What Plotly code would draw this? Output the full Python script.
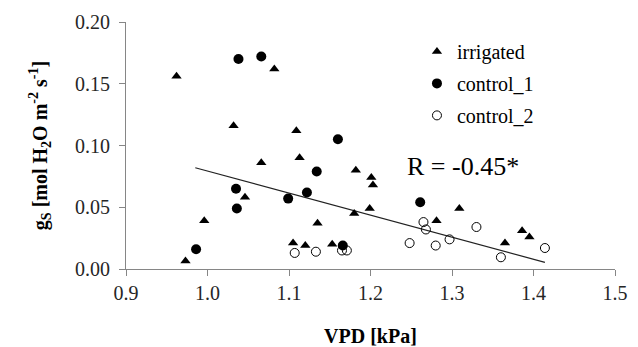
import plotly.graph_objects as go

# Data
irr_x = [0.962, 1.032, 1.082, 1.109, 1.113, 1.066, 1.046, 0.996, 1.135, 1.105, 1.120, 0.973,
         1.182, 1.201, 1.203, 1.199, 1.180, 1.309, 1.281, 1.386, 1.395, 1.365, 1.153]
irr_y = [0.156, 0.116, 0.162, 0.112, 0.090, 0.086, 0.058, 0.039, 0.037, 0.021, 0.019, 0.0065,
         0.080, 0.074, 0.068, 0.049, 0.045, 0.049, 0.039, 0.031, 0.026, 0.021, 0.020]

c1_x = [1.038, 1.066, 1.160, 1.134, 1.035, 1.122, 1.099, 1.036, 0.986, 1.261, 1.166]
c1_y = [0.170, 0.172, 0.105, 0.079, 0.065, 0.062, 0.057, 0.049, 0.016, 0.054, 0.019]

c2_x = [1.107, 1.133, 1.165, 1.171, 1.265, 1.268, 1.330, 1.297, 1.248, 1.280, 1.414, 1.360]
c2_y = [0.013, 0.014, 0.015, 0.015, 0.038, 0.032, 0.034, 0.024, 0.021, 0.019, 0.017, 0.0095]

trend_x = [0.985, 1.414]
trend_y = [0.082, 0.0054]

x_ticks = [0.9, 1.0, 1.1, 1.2, 1.3, 1.4, 1.5]
y_ticks = [0.00, 0.05, 0.10, 0.15, 0.20]

FONT = "'Liberation Serif', Tinos, 'Times New Roman', 'DejaVu Serif', serif"
AXC = "#868686"
TXT = "#262626"

fig = go.Figure()
fig.add_trace(go.Scatter(x=trend_x, y=trend_y, mode="lines",
                         line=dict(color="#222", width=1.2), showlegend=False, hoverinfo="skip"))
fig.add_trace(go.Scatter(x=irr_x, y=irr_y, mode="markers", name="irrigated", legendgroup="a",
                         marker=dict(symbol="triangle-up", size=9, color="black")))
fig.add_trace(go.Scatter(x=c1_x, y=c1_y, mode="markers", name="control_1", legendgroup="b",
                         marker=dict(symbol="circle", size=10, color="black")))
fig.add_trace(go.Scatter(x=c2_x, y=c2_y, mode="markers", name="control_2", legendgroup="c",
                         marker=dict(symbol="circle-open", size=9, color="black",
                                     line=dict(width=1, color="black"))))

fig.add_annotation(x=1.313, y=0.0828, xref="x", yref="y", text="R = -0.45*",
                   showarrow=False, font=dict(family=FONT, size=26, color="black"))

fig.update_layout(
    template="none",
    width=622, height=339,
    margin=dict(l=118, r=15, t=14, b=78, autoexpand=False),
    paper_bgcolor="white", plot_bgcolor="white",
    font=dict(family=FONT, size=20, color="black"),
    legend=dict(x=0.595, y=0.96, xanchor="left", yanchor="top",
                bgcolor="rgba(0,0,0,0)", font=dict(family=FONT, size=20),
                itemwidth=30, traceorder="grouped", tracegroupgap=3),
    xaxis=dict(range=[0.9, 1.5], tickvals=x_ticks, tickformat=".1f", automargin=False,
               showgrid=False, zeroline=False, showline=True, linecolor=AXC, linewidth=1,
               ticks="outside", ticklen=6, tickcolor=AXC,
               tickfont=dict(family=FONT, size=20, color=TXT),
               title=dict(text="<b>VPD [kPa]</b>", font=dict(family=FONT, size=20, color="black"),
                          standoff=36)),
    yaxis=dict(range=[0, 0.20], tickvals=y_ticks, tickformat=".2f", automargin=False,
               showgrid=False, zeroline=False, showline=True, linecolor=AXC, linewidth=1,
               ticks="outside", ticklen=6, tickcolor=AXC, ticklabelstandoff=5,
               tickfont=dict(family=FONT, size=20, color=TXT),
               title=dict(text="<b>g<sub>S</sub> [mol H<sub>2</sub>O m<sup>-2</sup> s<sup>-1</sup>]</b>",
                          font=dict(family=FONT, size=20, color="black"), standoff=22)),
)

fig.write_html("out.html")
